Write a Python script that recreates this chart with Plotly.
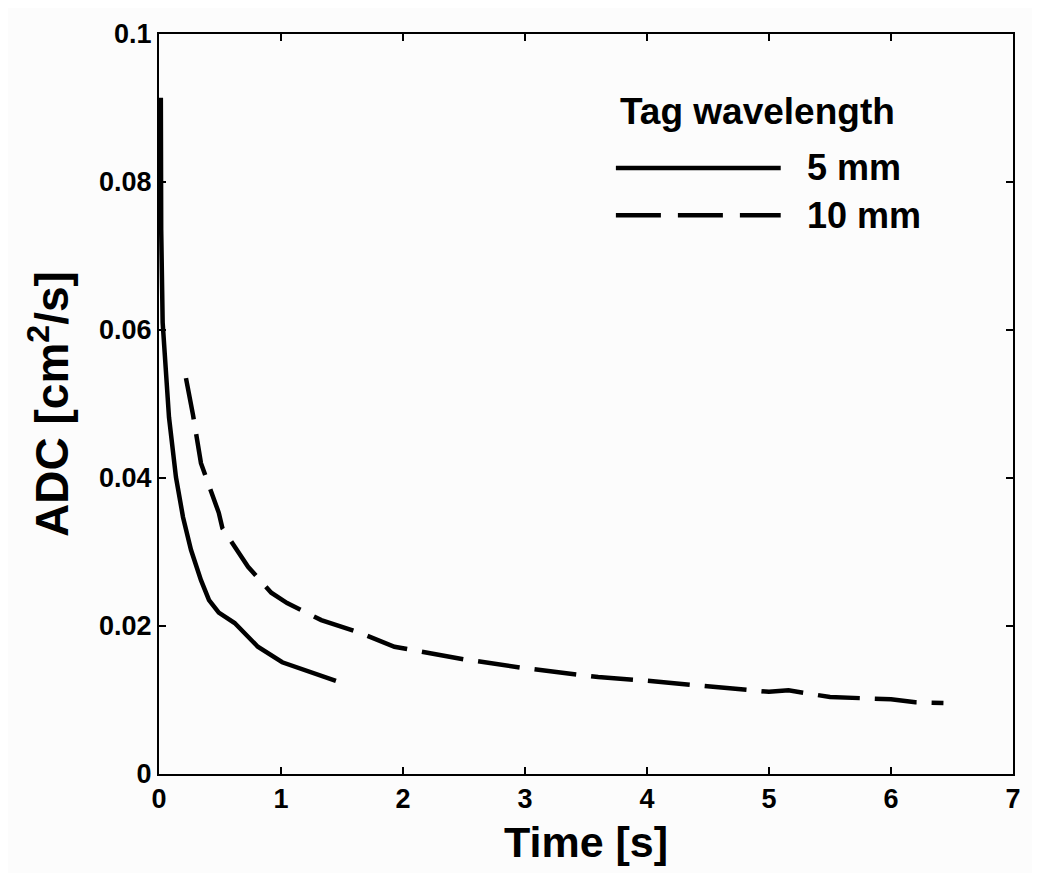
import plotly.graph_objects as go

# Data
time_5mm = [0.015, 0.018, 0.03, 0.055, 0.082, 0.139, 0.197, 0.262, 0.344, 0.41,
            0.49, 0.62, 0.81, 1.01, 1.27, 1.45]
adc_5mm = [0.0914, 0.0735, 0.061, 0.0555, 0.0482, 0.0401, 0.0347, 0.0303,
           0.0262, 0.0235, 0.0218, 0.0204, 0.0172, 0.0151, 0.0136, 0.0126]

time_10mm = [0.221, 0.279, 0.344, 0.385, 0.49, 0.52, 0.656, 0.73, 0.92, 1.05,
             1.33, 1.66, 1.93, 2.5, 3.0, 3.6, 4.0, 4.5, 5.0, 5.16, 5.5, 6.0,
             6.2, 6.43]
adc_10mm = [0.0535, 0.0485, 0.042, 0.040, 0.0353, 0.0332, 0.030, 0.028,
            0.0245, 0.0231, 0.0208, 0.019, 0.0172, 0.0155, 0.0143, 0.0131,
            0.0126, 0.0119, 0.0111, 0.0113, 0.0104, 0.0101, 0.0097, 0.0096]

x_ticks = [0, 1, 2, 3, 4, 5, 6, 7]
y_ticks = [0, 0.02, 0.04, 0.06, 0.08, 0.1]
y_tick_labels = ["0", "0.02", "0.04", "0.06", "0.08", "0.1"]

font = "Liberation Sans, Arial, sans-serif"
dash = "42px,15px"

fig = go.Figure()
fig.add_trace(go.Scatter(x=time_5mm, y=adc_5mm, mode="lines", name="5 mm",
                         line=dict(color="black", width=4.5), showlegend=False))
fig.add_trace(go.Scatter(x=time_10mm, y=adc_10mm, mode="lines", name="10 mm",
                         line=dict(color="black", width=4.5, dash=dash),
                         showlegend=False))

# Hand-drawn legend to match the long legend lines
fig.add_shape(type="line", xref="paper", yref="paper", x0=0.535, x1=0.728,
              y0=0.819, y1=0.819, line=dict(color="black", width=4.5))
fig.add_shape(type="line", xref="paper", yref="paper", x0=0.535, x1=0.728,
              y0=0.755, y1=0.755, line=dict(color="black", width=4.5, dash="45px,17px"))
fig.add_annotation(xref="paper", yref="paper", x=0.538, y=0.895, text="<b>Tag wavelength</b>",
                   showarrow=False, xanchor="left", yanchor="middle",
                   font=dict(size=37, color="black", family=font))
fig.add_annotation(xref="paper", yref="paper", x=0.756, y=0.819, text="<b>5 mm</b>",
                   showarrow=False, xanchor="left", yanchor="middle",
                   font=dict(size=36, color="black", family=font))
fig.add_annotation(xref="paper", yref="paper", x=0.756, y=0.755, text="<b>10 mm</b>",
                   showarrow=False, xanchor="left", yanchor="middle",
                   font=dict(size=36, color="black", family=font))

# x-axis title placed as annotation just under the tick labels
fig.add_annotation(xref="paper", yref="paper", x=0.5, y=-0.092, text="<b>Time [s]</b>",
                   showarrow=False, xanchor="center", yanchor="middle",
                   font=dict(size=43, color="black", family=font))

axis_common = dict(showline=True, linecolor="black", linewidth=2, mirror="ticks",
                   ticks="inside", ticklen=7, tickwidth=1.5, tickcolor="black",
                   showgrid=False, zeroline=False,
                   tickfont=dict(size=27, color="black", family=font))

fig.update_layout(
    width=1032, height=865,
    margin=dict(l=151, r=27, t=26, b=99),
    paper_bgcolor="#fcfcfc", plot_bgcolor="#fcfcfc",
    font=dict(family=font, color="black"),
    xaxis=dict(range=[0, 7], tickvals=x_ticks,
               ticktext=[f"<b>{t}</b>" for t in x_ticks],
               **axis_common),
    yaxis=dict(range=[0, 0.1], tickvals=y_ticks,
               ticktext=[f"<b>{t}</b>" for t in y_tick_labels],
               title=dict(text="<b>ADC [cm<sup>2</sup>/s]</b>", font=dict(size=46), standoff=16),
               **axis_common),
)

fig.write_html("out.html")
